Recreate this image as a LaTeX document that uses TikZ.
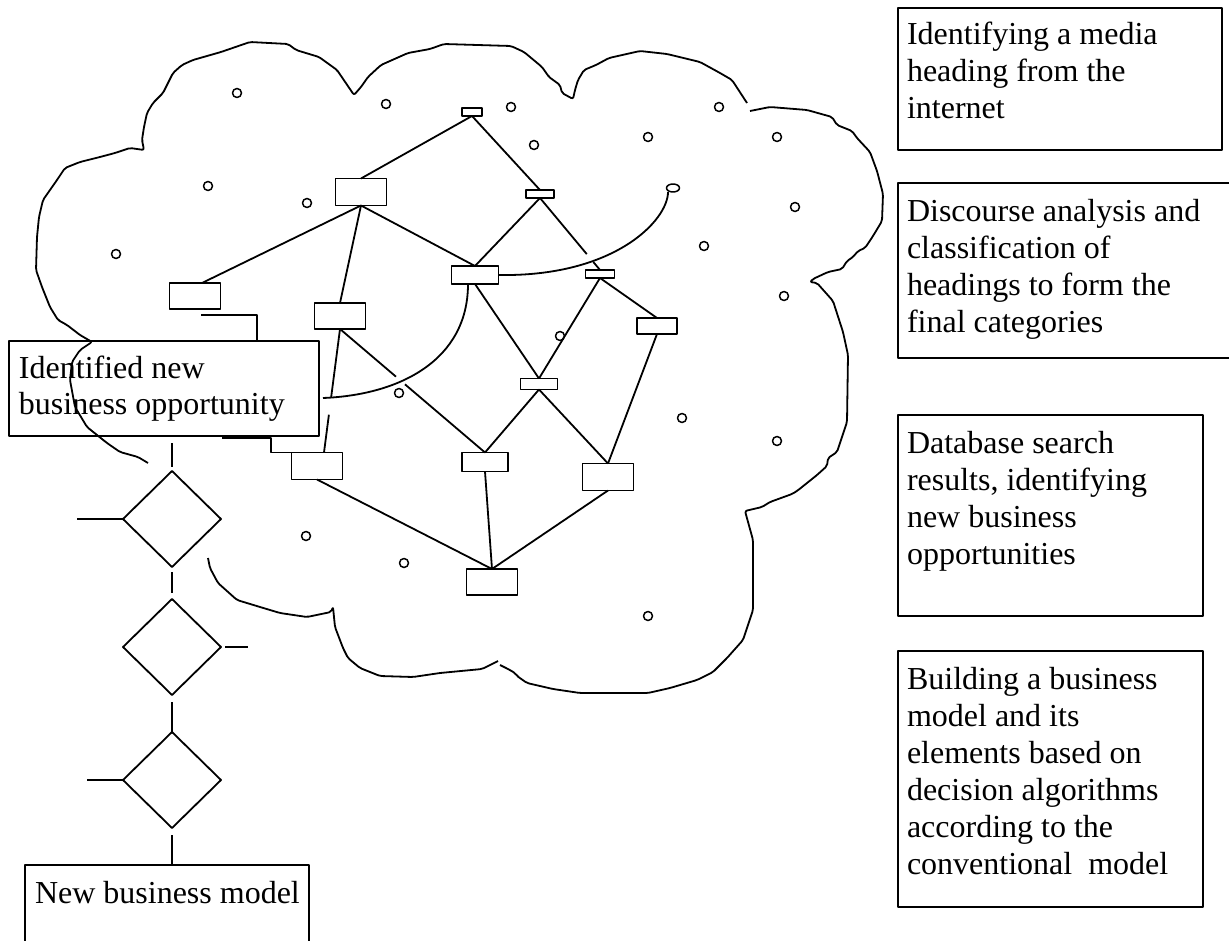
\documentclass[tikz,border=0pt]{standalone}
\usepackage{fontspec}
\setmainfont{Liberation Serif}
\usetikzlibrary{shapes.geometric,calc}

\begin{document}
\begin{tikzpicture}[x=1pt,y=-1pt,line width=1.8pt,line join=round,
  every node/.style={inner sep=0pt,outer sep=0pt},
  frame/.style={draw,rectangle,anchor=north west},
  txt/.style={anchor=base west,font=\fontsize{32}{37}\selectfont},
  gnode/.style={draw,rectangle},
  dia/.style={draw,diamond,minimum width=98pt,minimum height=96pt},
  dot/.style={draw,circle,minimum size=9pt,line width=1.5pt},
  cloudline/.style={line width=1.8pt,rounded corners=2pt},
  link/.style={line width=1.8pt}]
\useasboundingbox (0,0) rectangle (1229,941);

% ---------------- cloud outline ----------------
\draw[cloudline] (208,558) -- (210,568) -- (218,583) -- (237,600) -- (260,607) -- (280,613)
  -- (307,617) -- (331,612) -- (333,607) -- (335,627) -- (343,648) -- (348,658) -- (360,668)
  -- (380,676) -- (413,677) -- (440,673) -- (482,669) -- (498,661);
\draw[cloudline] (500,665) -- (508,669) -- (515,673) -- (517,676) -- (527,683) -- (553,689)
  -- (580,693) -- (648,693) -- (670,688) -- (697,680) -- (713,672) -- (727,658) -- (743,640)
  -- (753,610) -- (753,540) -- (745,511) -- (762,507) -- (770,502) -- (792,494) -- (797,491)
  -- (817,475) -- (827,466) -- (828,458) -- (837,452) -- (847,422) -- (848,355) -- (843,332)
  -- (833,301) -- (825,292) -- (817,283) -- (810,282) -- (813,279) -- (828,272) -- (842,269)
  -- (847,261) -- (853,257) -- (858,251) -- (865,248) -- (873,236) -- (882,221) -- (883,194)
  -- (877,171) -- (870,152) -- (857,138) -- (852,131) -- (837,125) -- (832,117) -- (807,110)
  -- (770,107) -- (750,111);
\draw[cloudline] (747,103) -- (732,80) -- (720,73) -- (700,62) -- (667,54) -- (640,51)
  -- (609,58) -- (596,65) -- (584,70) -- (578,80) -- (575,90) -- (573,99) -- (562,93)
  -- (560,85) -- (549,77) -- (542,67) -- (524,52) -- (511,46) -- (444,44) -- (430,49)
  -- (408,53) -- (381,65) -- (368,77) -- (361,87) -- (354,95) -- (337,70) -- (319,57)
  -- (296,50) -- (288,44) -- (250,42) -- (221,52) -- (193,60) -- (182,65) -- (173,73)
  -- (167,85) -- (163,93) -- (153,103) -- (147,113) -- (144,127) -- (142,140) -- (144,150)
  -- (130,148) -- (115,153) -- (100,157) -- (80,162) -- (65,168) -- (57,180) -- (43,200)
  -- (39,217) -- (37,237) -- (36,270) -- (42,287) -- (50,307) -- (58,320) -- (67,325)
  -- (80,335) -- (92,342) -- (80,350) -- (72,362) -- (70,380) -- (75,407) -- (87,427)
  -- (107,443) -- (120,452) -- (138,457) -- (148,463);

% ---------------- small points inside the cloud ----------------
\foreach \p [count=\i] in {(237,93),(386,104),(511,107),(534,145),(648,137),(719,107),
    (777,137),(208,186),(307,203),(116,254),(399,393),(795,207),(704,246),(784,296),
    (560,336),(682,418),(777,441),(306,536),(404,563),(648,616)}
  \node[dot] (pt\i) at \p {};

% ---------------- hierarchy of headings ----------------
\node[gnode,minimum width=20pt,minimum height=8pt]  (N1)  at (472,112) {};
\node[gnode,minimum width=51pt,minimum height=27pt] (N2)  at (361,192) {};
\node[gnode,minimum width=28pt,minimum height=8pt]  (N3)  at (540,194) {};
\node[gnode,minimum width=47pt,minimum height=18pt] (N4)  at (475,275) {};
\node[gnode,minimum width=29pt,minimum height=8pt]  (N5)  at (600,274) {};
\node[gnode,minimum width=40pt,minimum height=16pt] (N6)  at (657,326) {};
\node[gnode,minimum width=37pt,minimum height=11pt] (N7)  at (539,384) {};
\node[gnode,minimum width=51pt,minimum height=26pt] (N8)  at (195,296) {};
\node[gnode,minimum width=51pt,minimum height=26pt] (N9)  at (340,316) {};
\node[gnode,minimum width=51pt,minimum height=27pt] (N10) at (317,466) {};
\node[gnode,minimum width=46pt,minimum height=19pt] (N11) at (485,462) {};
\node[gnode,minimum width=51pt,minimum height=27pt] (N12) at (608,477) {};
\node[gnode,minimum width=51pt,minimum height=26pt] (N13) at (492,582) {};
\node[draw,ellipse,minimum width=13pt,minimum height=8pt,line width=1.5pt] (tip) at (673,188) {};

\draw[link] (N1.south) -- (N2.north);
\draw[link] (N1.south) -- (N3.north);
\draw[link] (N2.south) -- ([xshift=7pt]N8.north);
\draw[link] (N2.south) -- (N9.north);
\draw[link] (N2.south) -- (N4.north);
\draw[link] (N3.south) -- (N4.north);
\draw[link] (N3.south) -- ($(N3.south)!0.78!(N5.north)$)
            ($(N3.south)!0.89!(N5.north)$) -- (N5.north);
\draw[link] (N4.south) -- (N7.north);
\draw[link] (N5.south) -- (N7.north);
\draw[link] (N5.south) -- (N6.north);
\draw[link] (N6.south) -- (N12.north);
\draw[link] (N7.south) -- (N11.north);
\draw[link] (N7.south) -- (N12.north);
\coordinate (N10t) at ([xshift=7pt]N10.north);
\draw[link] (N9.south) -- ($(N9.south)!0.556!(N10t)$)
            ($(N9.south)!0.694!(N10t)$) -- (N10t);
\draw[link] (N9.south) -- ($(N9.south)!0.386!(N11.north)$)
            ($(N9.south)!0.448!(N11.north)$) -- (N11.north);
\draw[link] (N10.south) -- (N13.north);
\draw[link] (N11.south) -- (N13.north);
\draw[link] (N12.south) -- (N13.north);

% curved links
\coordinate (arcL) at (323,398);
\draw[link] ([xshift=-7pt]N4.south) .. controls (468,360) and (400,395) .. (arcL);
\draw[link] (N4.east) .. controls (615,277) and (668,220) .. ([xshift=-5pt]tip.south);

% ---------------- decision path ----------------
\node[frame,minimum width=310pt,minimum height=95pt] (idbox) at (9,341) {};
\node[anchor=base west,font=\fontsize{32}{36}\selectfont] (idtxt) at (19,378)
  {\parbox[t]{300pt}{Identified new\\business opportunity}};

\coordinate (e2) at (257,341);
\draw[link] ([shift={(6pt,-6pt)}]N8.south) -| (e2);
\coordinate (e3) at (222,438);
\draw[link] (e3) -- ++(49,0) |- (N10.north west);

\node[dia] (d1) at (172,519) {};
\node[dia] (d2) at (172,647) {};
\node[dia] (d3) at (172,780) {};

\node[frame,minimum width=284pt,minimum height=110pt] (nbm) at (25,865) {};
\node[txt] (nbmtxt) at (35,903) {New business model};

\draw[link,shorten <=7pt,shorten >=4pt] (idbox.south -| d1.north) -- (d1.north);
\draw[link,shorten <=5pt,shorten >=6pt] (d1.south) -- (d2.north);
\draw[link,shorten <=7pt] (d2.south) -- (d3.north);
\draw[link,shorten <=7pt] (d3.south) -- (d3.south |- nbm.north);

\coordinate (s1) at (77,519);
\coordinate (s2) at (248,649);
\coordinate (s3) at (87,780);
\draw[link] (s1) -- (d1.west);
\draw[link,shorten <=4pt] (d2.east) -- (d2.east -| s2);
\draw[link] (s3) -- (d3.west);

% ---------------- legend boxes ----------------
\node[frame,minimum width=324pt,minimum height=142pt] (r1) at (898,8) {};
\node[txt] (r1txt) at (907,45)
  {\parbox[t]{320pt}{Identifying a media\\heading from the\\internet}};

\node[frame,minimum width=345pt,minimum height=175pt] (r2) at (898,183) {};
\node[txt] (r2txt) at (907,222)
  {\parbox[t]{320pt}{Discourse analysis and\\classification of\\headings to form the\\final categories}};

\node[frame,minimum width=305pt,minimum height=201pt] (r3) at (898,415) {};
\node[txt] (r3txt) at (907,453)
  {\parbox[t]{290pt}{Database search\\results, identifying\\new business\\opportunities}};

\node[frame,minimum width=305pt,minimum height=256pt] (r4) at (898,651) {};
\node[txt] (r4txt) at (907,689)
  {\parbox[t]{290pt}{Building a business\\model and its\\elements based on\\decision algorithms\\according to the\\conventional~ model}};
\end{tikzpicture}
\end{document}
